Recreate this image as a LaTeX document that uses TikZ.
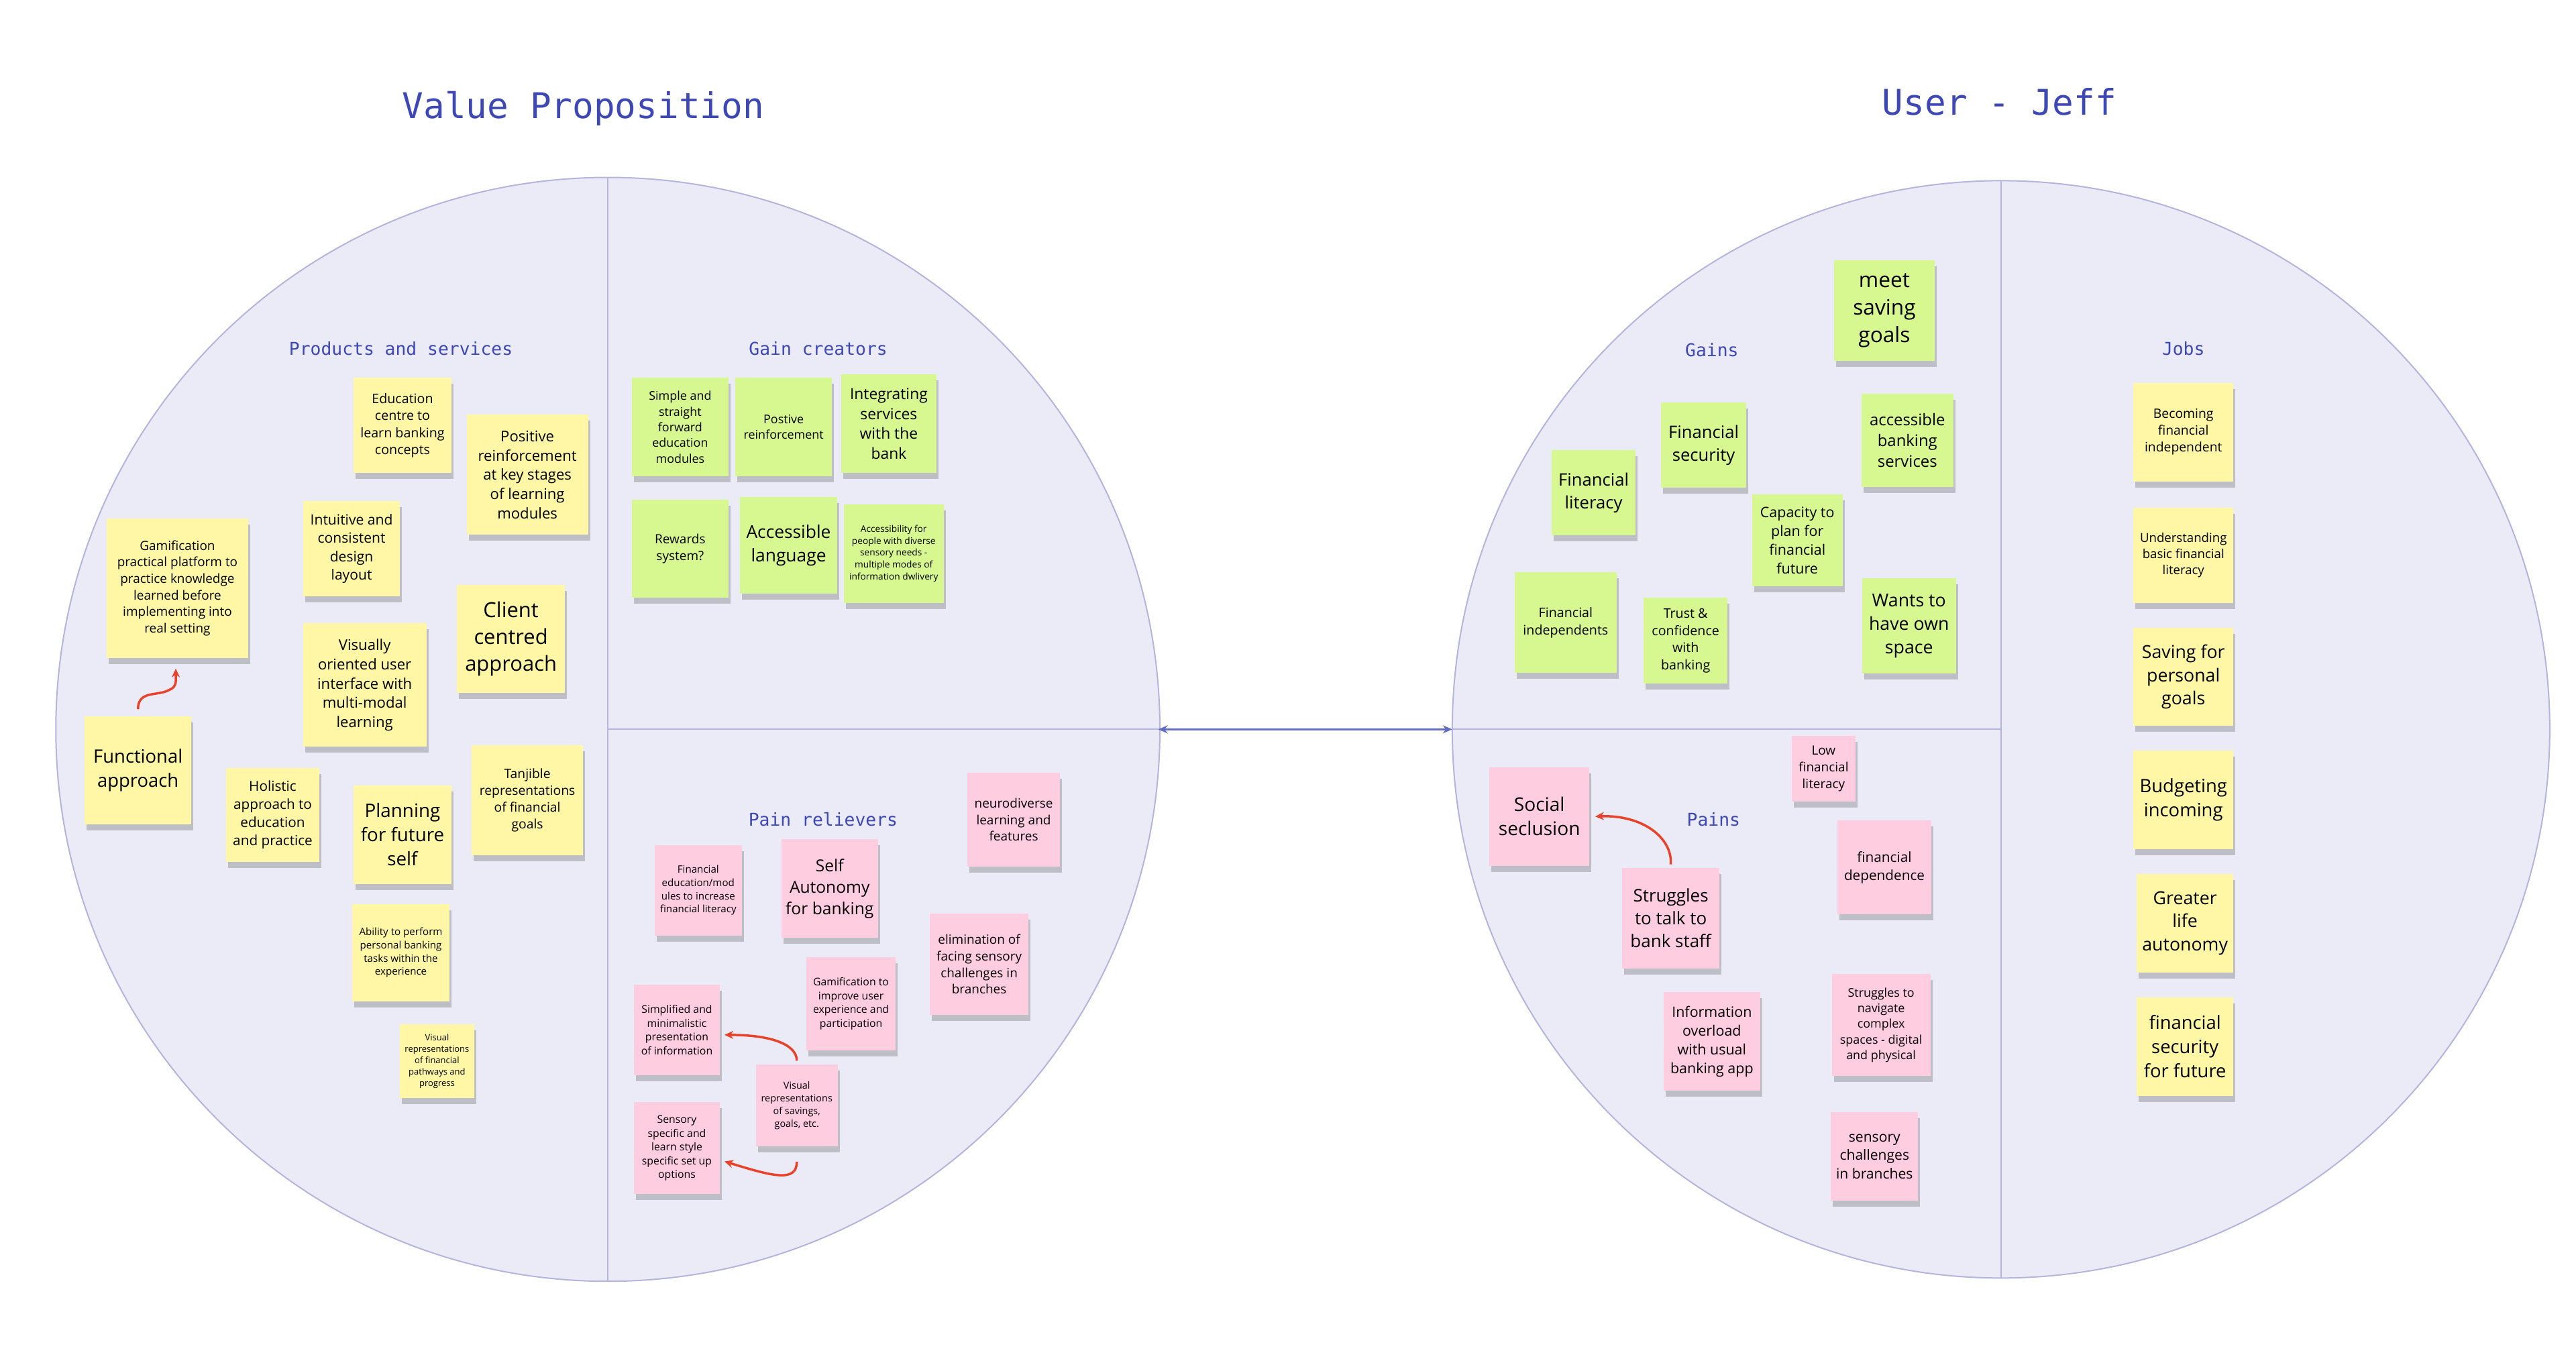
\documentclass[tikz,border=0pt]{standalone}
\usepackage{fontspec}
\setmainfont{Open Sans}
\newfontfamily\titlemono{DejaVu Sans Mono}
\usetikzlibrary{shadows,arrows.meta}
\newcommand\fsz[1]{\fontsize{#1pt}{\dimexpr#1pt*13/10\relax}\selectfont}
\definecolor{circfill}{HTML}{EBEBF7}
\definecolor{circline}{HTML}{B4B4DC}
\definecolor{ttl}{HTML}{3D48B5}
\definecolor{yel}{HTML}{FFF7A6}
\definecolor{grn}{HTML}{D7F791}
\definecolor{pnk}{HTML}{FFCDDF}
\definecolor{arr}{HTML}{E8432A}
\tikzset{
  sz/.style 2 args={minimum width=#1*0.2449mm, minimum height=#2*0.2449mm},
  fs/.style={font=\fsz{#1}},
  note/.style={align=center, inner sep=0pt, drop shadow={shadow xshift=0.3mm, shadow yshift=-0.9mm, opacity=0.28, fill=black!70}},
  ynote/.style={note, fill=yel},
  gnote/.style={note, fill=grn},
  pnote/.style={note, fill=pnk},
  bigtitle/.style={text=ttl, font={\titlemono\fontsize{15pt}{18pt}\selectfont}},
  sectitle/.style={text=ttl, font={\titlemono\fontsize{7.5pt}{9pt}\selectfont}},
  redarrow/.style={draw=arr, line width=0.35mm, -{Stealth[length=1.3mm,width=1.2mm]}},
}
\begin{document}
\begin{tikzpicture}[x=0.2449mm,y=-0.2449mm]
\useasboundingbox[fill=white] (0,0) rectangle (1568,832);
% circles
\draw[circline, fill=circfill, line width=0.2mm] (370,444) circle[radius=336];
\draw[circline, fill=circfill, line width=0.2mm] (1218,444) circle[radius=334];
\draw[circline, line width=0.2mm] (370,108) -- (370,780);
\draw[circline, line width=0.2mm] (370,444) -- (706,444);
\draw[circline, line width=0.2mm] (1218,110) -- (1218,778);
\draw[circline, line width=0.2mm] (884,444) -- (1218,444);
\coordinate (la) at (705,444);
\coordinate (ra) at (884,444);
\draw[ttl!80, line width=0.25mm, {Stealth[length=1.4mm,width=1.2mm]}-{Stealth[length=1.4mm,width=1.2mm]}] (la) -- (ra);
% titles
\node[bigtitle] (t1) at (355,66) {Value Proposition};
\node[bigtitle] (t2) at (1217,62) {User - Jeff};
\node[sectitle] (s1) at (244,212) {Products and services};
\node[sectitle] (s2) at (498,212) {Gain creators};
\node[sectitle] (s3) at (501,499) {Pain relievers};
\node[sectitle] (s4) at (1042,213) {Gains};
\node[sectitle] (s5) at (1043,499) {Pains};
\node[sectitle] (s6) at (1329,212) {Jobs};
% products and services
\node[ynote, sz={60}{58}, fs=5.6] (p1) at (245,259) {Education\\centre to\\learn banking\\concepts};
\node[ynote, sz={74}{73}, fs=6.3] (p2) at (321,289) {Positive\\reinforcement\\at key stages\\of learning\\modules};
\node[ynote, sz={86}{85}, fs=5.4] (p3) at (108,358) {Gamification\\practical platform to\\practice knowledge\\learned before\\implementing into\\real setting};
\node[ynote, sz={59}{58}, fs=6] (p4) at (214,334) {Intuitive and\\consistent\\design\\layout};
\node[ynote, sz={66}{66}, fs=8.8] (p5) at (311,389) {Client\\centred\\approach};
\node[ynote, sz={75}{75}, fs=6.3] (p6) at (222,417) {Visually\\oriented user\\interface with\\multi-modal\\learning};
\node[ynote, sz={65}{66}, fs=7.8] (p7) at (84,469) {Functional\\approach};
\node[ynote, sz={57}{57}, fs=5.9] (p8) at (166,496) {Holistic\\approach to\\education\\and practice};
\node[ynote, sz={60}{60}, fs=7.9] (p9) at (245,508) {Planning\\for future\\self};
\node[ynote, sz={68}{67}, fs=5.5] (p10) at (321,487) {Tanjible\\representations\\of financial\\goals};
\node[ynote, sz={59}{59}, fs=4.3] (p11) at (244,580) {Ability to perform\\personal banking\\tasks within the\\experience};
\node[ynote, sz={45}{45}, fs=3.7] (p12) at (266,646) {Visual\\representations\\of financial\\pathways and\\progress};
\draw[redarrow] (p7.north) ++(0,-4) .. controls (84,420) and (96,424) .. (103,420) .. controls (108,418) and (107,414) .. (107,407);
% gain creators
\node[gnote, sz={59}{60}, fs=5.1] (g1) at (414,260) {Simple and\\straight\\forward\\education\\modules};
\node[gnote, sz={59}{60}, fs=5.1] (g2) at (477,260) {Postive\\reinforcement};
\node[gnote, sz={58}{60}, fs=6.5] (g3) at (541,258) {Integrating\\services\\with the\\bank};
\node[gnote, sz={59}{60}, fs=5.4] (g4) at (414,334) {Rewards\\system?};
\node[gnote, sz={59}{59}, fs=7.5] (g5) at (480,332) {Accessible\\language};
\node[gnote, sz={61}{60}, fs=3.9] (g6) at (544,337) {Accessibility for\\people with diverse\\sensory needs -\\multiple modes of\\information dwlivery};
% pain relievers
\node[pnote, sz={53}{55}, fs=4.3] (r1) at (425,542) {Financial\\education/mod\\ules to increase\\financial literacy};
\node[pnote, sz={59}{60}, fs=7] (r2) at (505,541) {Self\\Autonomy\\for banking};
\node[pnote, sz={56}{57}, fs=5.4] (r3) at (617,499) {neurodiverse\\learning and\\features};
\node[pnote, sz={60}{62}, fs=5.4] (r4) at (596,587) {elimination of\\facing sensory\\challenges in\\branches};
\node[pnote, sz={54}{57}, fs=4.5] (r5) at (518,611) {Gamification to\\improve user\\experience and\\participation};
\node[pnote, sz={52}{55}, fs=4.5] (r6) at (412,627) {Simplified and\\minimalistic\\presentation\\of information};
\node[pnote, sz={50}{50}, fs=4.1] (r7) at (485,673) {Visual\\representations\\of savings,\\goals, etc.};
\node[pnote, sz={52}{56}, fs=4.5] (r8) at (412,699) {Sensory\\specific and\\learn style\\specific set up\\options};
\draw[redarrow] (r7.north) ++(0,-2) .. controls (485,636) and (470,630) .. (441,630);
\draw[redarrow] (r7.south) ++(0,9) .. controls (485,720) and (470,716) .. (441,707);
% gains
\node[gnote, sz={61}{61}, fs=9] (u1) at (1147,189) {meet\\saving\\goals};
\node[gnote, sz={52}{52}, fs=7.3] (u2) at (1037,271) {Financial\\security};
\node[gnote, sz={56}{57}, fs=6.8] (u3) at (1161,268) {accessible\\banking\\services};
\node[gnote, sz={51}{52}, fs=7.3] (u4) at (970,300) {Financial\\literacy};
\node[gnote, sz={55}{56}, fs=6.1] (u5) at (1094,329) {Capacity to\\plan for\\financial\\future};
\node[gnote, sz={62}{61}, fs=5.6] (u6) at (953,379) {Financial\\independents};
\node[gnote, sz={51}{52}, fs=5.6] (u7) at (1026,390) {Trust \&\\confidence\\with\\banking};
\node[gnote, sz={57}{58}, fs=7.6] (u8) at (1162,381) {Wants to\\have own\\space};
% pains
\node[pnote, sz={39}{40}, fs=5.4] (q1) at (1110,468) {Low\\financial\\literacy};
\node[pnote, sz={61}{60}, fs=8] (q2) at (937,497) {Social\\seclusion};
\node[pnote, sz={57}{57}, fs=5.9] (q3) at (1147,528) {financial\\dependence};
\node[pnote, sz={59}{61}, fs=7.4] (q4) at (1017,559) {Struggles\\to talk to\\bank staff};
\node[pnote, sz={59}{60}, fs=6.1] (q5) at (1042,634) {Information\\overload\\with usual\\banking app};
\node[pnote, sz={60}{62}, fs=5.1] (q6) at (1145,624) {Struggles to\\navigate\\complex\\spaces - digital\\and physical};
\node[pnote, sz={53}{54}, fs=6] (q7) at (1141,704) {sensory\\challenges\\in branches};
\draw[redarrow] (q4.north) ++(0,-2) .. controls (1018,510) and (1000,496) .. (971,497);
% jobs
\node[ynote, sz={61}{60}, fs=5.5] (j1) at (1329,263) {Becoming\\financial\\independent};
\node[ynote, sz={61}{58}, fs=5.3] (j2) at (1329,338) {Understanding\\basic financial\\literacy};
\node[ynote, sz={61}{60}, fs=7.6] (j3) at (1329,412) {Saving for\\personal\\goals};
\node[ynote, sz={61}{60}, fs=7.8] (j4) at (1329,487) {Budgeting\\incoming};
\node[ynote, sz={59}{60}, fs=7.6] (j5) at (1330,562) {Greater\\life\\autonomy};
\node[ynote, sz={59}{60}, fs=7.8] (j6) at (1330,637) {financial\\security\\for future};
\end{tikzpicture}
\end{document}
